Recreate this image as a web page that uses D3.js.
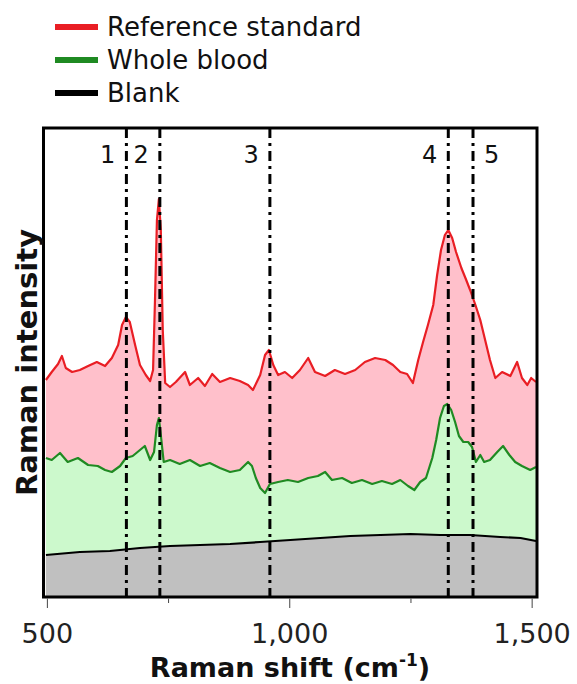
<!DOCTYPE html>
<html>
<head>
<meta charset="utf-8">
<script src="https://cdn.jsdelivr.net/npm/d3@7"></script>
<style>
  body { margin: 0; background: #fff; }
  svg { display: block; }
</style>
</head>
<body>
<svg id="chart" width="577" height="684"></svg>
<script>
// Raman shift (cm-1) and intensity (a.u.)
var referenceStandard = [
  [497, 2170], [509, 2250], [522, 2330], [530, 2410], [538, 2290], [551, 2250],
  [567, 2270], [584, 2310], [602, 2350], [619, 2310], [633, 2390], [646, 2520],
  [654, 2720], [662, 2800], [670, 2750], [681, 2520], [691, 2320], [703, 2220],
  [712, 2160], [718, 2270], [722, 2970], [726, 3770], [730, 3980], [734, 3670],
  [738, 2670], [743, 2140], [753, 2100], [765, 2150], [784, 2250], [794, 2120],
  [811, 2190], [825, 2110], [840, 2230], [856, 2150], [877, 2190], [897, 2160],
  [914, 2120], [924, 2070], [939, 2220], [949, 2420], [957, 2470], [966, 2320],
  [976, 2220], [990, 2250], [1005, 2190], [1021, 2270], [1038, 2390], [1052, 2250],
  [1073, 2210], [1093, 2270], [1114, 2230], [1135, 2270], [1155, 2350], [1176, 2390],
  [1197, 2370], [1213, 2320], [1228, 2250], [1242, 2230], [1254, 2140], [1265, 2370],
  [1275, 2550], [1285, 2720], [1296, 2920], [1304, 3220], [1312, 3470], [1320, 3620],
  [1327, 3670], [1335, 3590], [1343, 3450], [1354, 3290], [1364, 3170], [1372, 3070],
  [1383, 2920], [1393, 2770], [1403, 2570], [1413, 2370], [1424, 2190], [1438, 2250],
  [1455, 2210], [1469, 2350], [1479, 2190], [1490, 2120], [1498, 2190], [1508, 2150]
];

var wholeBlood = [
  [497, 1390], [509, 1370], [526, 1440], [542, 1350], [563, 1390], [584, 1320],
  [604, 1310], [619, 1270], [633, 1250], [650, 1310], [662, 1390], [676, 1410],
  [691, 1470], [701, 1510], [712, 1370], [720, 1450], [726, 1720], [730, 1790],
  [734, 1620], [740, 1350], [753, 1370], [773, 1330], [794, 1370], [815, 1310],
  [835, 1340], [856, 1290], [877, 1250], [897, 1270], [914, 1350], [922, 1310],
  [930, 1190], [939, 1090], [949, 1040], [959, 1130], [976, 1150], [996, 1170],
  [1017, 1150], [1038, 1190], [1058, 1210], [1073, 1250], [1087, 1170], [1108, 1190],
  [1128, 1140], [1149, 1170], [1170, 1130], [1190, 1160], [1211, 1130], [1228, 1170],
  [1244, 1110], [1257, 1070], [1269, 1150], [1281, 1190], [1294, 1390], [1302, 1570],
  [1310, 1790], [1318, 1910], [1325, 1930], [1333, 1870], [1341, 1750], [1349, 1610],
  [1358, 1550], [1368, 1550], [1376, 1500], [1384, 1350], [1393, 1420], [1401, 1350],
  [1413, 1370], [1428, 1450], [1440, 1510], [1453, 1420], [1465, 1350], [1479, 1310],
  [1496, 1270], [1508, 1300]
];

var blank = [
  [497, 420], [567, 450], [629, 460], [691, 490], [753, 510], [815, 520],
  [877, 530], [939, 550], [1001, 570], [1063, 590], [1125, 610], [1187, 620],
  [1249, 630], [1310, 620], [1372, 620], [1434, 600], [1476, 590], [1508, 560]
];

var peakShifts = [663, 732, 959, 1327, 1378];
var peakLabels = ['1', '2', '3', '4', '5'];
var peakLabelSide = ['left', 'left', 'left', 'left', 'right'];

var majorTicks = [500, 1000, 1500];
var minorTicks = [750, 1250];

var seriesNames = ['Reference standard', 'Whole blood', 'Blank'];

var svg = d3.select('#chart');
var font = 'DejaVu Sans, sans-serif';

// plot box in pixels (not "top": that name is taken by window.top)
var plotLeft = 43.5, plotRight = 537, plotTop = 128, plotBottom = 597;

var x = d3.scaleLinear().domain([492, 1510]).range([plotLeft, plotRight]);
var y = d3.scaleLinear().domain([0, 4690]).range([plotBottom, plotTop]);

var series = [
  { name: seriesNames[0], values: referenceStandard, line: '#e91e24', fill: '#ffc0cb' },
  { name: seriesNames[1], values: wholeBlood, line: '#1f8a22', fill: '#ccf9cc' },
  { name: seriesNames[2], values: blank, line: '#000', fill: '#c0c0c0' }
];

svg.append('clipPath').attr('id', 'plot-clip')
  .append('rect')
  .attr('x', plotLeft).attr('y', plotTop)
  .attr('width', plotRight - plotLeft).attr('height', plotBottom - plotTop);

var plot = svg.append('g').attr('clip-path', 'url(#plot-clip)');

var area = d3.area()
  .x(function(d) { return x(d[0]); })
  .y0(plotBottom)
  .y1(function(d) { return y(d[1]); });

var line = d3.line()
  .x(function(d) { return x(d[0]); })
  .y(function(d) { return y(d[1]); });

// filled areas first, then the traces on top
series.forEach(function(s) {
  plot.append('path').datum(s.values)
    .attr('d', area)
    .style('fill', s.fill)
    .style('stroke', 'none');
});

series.forEach(function(s) {
  plot.append('path').datum(s.values)
    .attr('d', line)
    .style('fill', 'none')
    .style('stroke', s.line)
    .style('stroke-width', 2.2)
    .style('stroke-linejoin', 'round');
});

// dash-dot markers at the peak positions
plot.selectAll('line.peak').data(peakShifts).enter()
  .append('line')
  .attr('class', 'peak')
  .attr('x1', function(d) { return x(d); })
  .attr('x2', function(d) { return x(d); })
  .attr('y1', plotTop)
  .attr('y2', plotBottom)
  .style('stroke', '#000')
  .style('stroke-width', 3)
  .style('stroke-dasharray', '10,5,3,5');

svg.selectAll('text.peak').data(peakShifts).enter()
  .append('text')
  .attr('class', 'peak')
  .attr('x', function(d, i) { return x(d) + (peakLabelSide[i] === 'left' ? -11 : 11); })
  .attr('y', 163)
  .attr('text-anchor', function(d, i) { return peakLabelSide[i] === 'left' ? 'end' : 'start'; })
  .style('font-family', font)
  .style('font-size', '24px')
  .style('fill', '#111')
  .text(function(d, i) { return peakLabels[i]; });

// frame
svg.append('rect')
  .attr('x', plotLeft).attr('y', plotTop)
  .attr('width', plotRight - plotLeft).attr('height', plotBottom - plotTop)
  .style('fill', 'none')
  .style('stroke', '#000')
  .style('stroke-width', 3);

// x axis: ticks below the frame
var axis = svg.append('g');
axis.selectAll('line.major').data(majorTicks).enter()
  .append('line')
  .attr('class', 'major')
  .attr('x1', function(d) { return x(d); })
  .attr('x2', function(d) { return x(d); })
  .attr('y1', plotBottom + 1.5)
  .attr('y2', plotBottom + 11)
  .style('stroke', '#444')
  .style('stroke-width', 1);
axis.selectAll('line.minor').data(minorTicks).enter()
  .append('line')
  .attr('class', 'minor')
  .attr('x1', function(d) { return x(d); })
  .attr('x2', function(d) { return x(d); })
  .attr('y1', plotBottom + 1.5)
  .attr('y2', plotBottom + 6)
  .style('stroke', '#444')
  .style('stroke-width', 1);
axis.selectAll('text').data(majorTicks).enter()
  .append('text')
  .attr('x', function(d) { return x(d); })
  .attr('y', 643)
  .attr('text-anchor', 'middle')
  .style('font-family', font)
  .style('font-size', '27px')
  .style('fill', '#222')
  .text(function(d) { return d3.format(',')(d); });

var xTitle = svg.append('text')
  .attr('x', 290)
  .attr('y', 677)
  .attr('text-anchor', 'middle')
  .style('font-family', font)
  .style('font-size', '27px')
  .style('font-weight', 'bold')
  .style('fill', '#111');
xTitle.append('tspan').text('Raman shift (cm');
xTitle.append('tspan').attr('dy', -11).style('font-size', '17px').text('-1');
xTitle.append('tspan').attr('dy', 11).text(')');

svg.append('text')
  .attr('transform', 'translate(37,' + ((plotTop + plotBottom) / 2) + ') rotate(-90)')
  .attr('text-anchor', 'middle')
  .style('font-family', font)
  .style('font-size', '29px')
  .style('font-weight', 'bold')
  .style('fill', '#111')
  .text('Raman intensity');

// legend
var legend = svg.append('g');
series.forEach(function(s, i) {
  var ly = 27 + i * 33;
  legend.append('line')
    .attr('x1', 55).attr('x2', 98)
    .attr('y1', ly).attr('y2', ly)
    .style('stroke', s.line)
    .style('stroke-width', 6);
  legend.append('text')
    .attr('x', 107)
    .attr('y', ly + 9)
    .style('font-family', font)
    .style('font-size', '26px')
    .style('fill', '#111')
    .text(s.name);
});
</script>
</body>
</html>
